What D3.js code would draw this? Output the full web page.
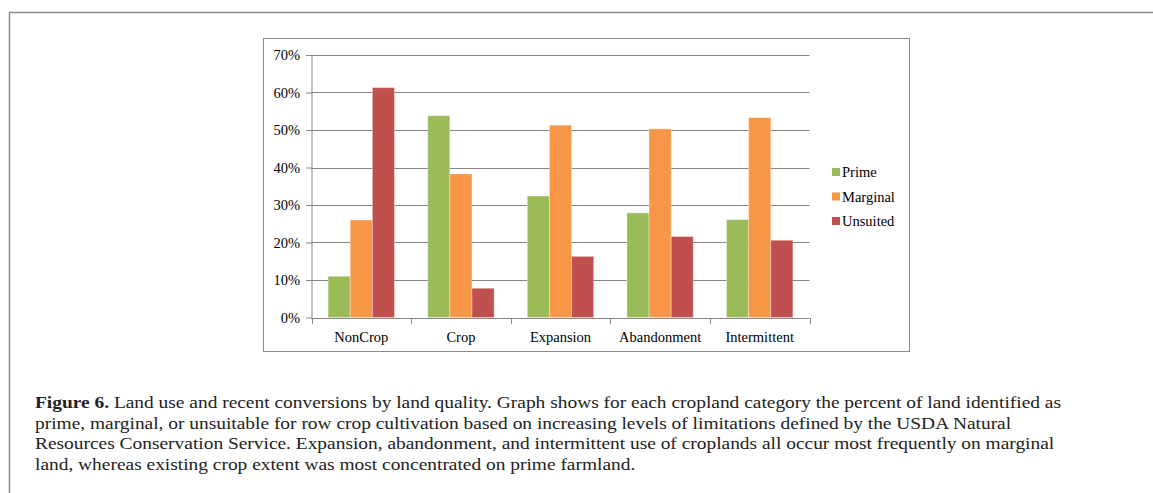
<!DOCTYPE html>
<html>
<head>
<meta charset="utf-8">
<script src="https://cdn.jsdelivr.net/npm/d3@7"></script>
<style>
  body { margin: 0; background: #fff; }
  svg { display: block; }
</style>
</head>
<body>
<svg id="fig" width="1153" height="493"></svg>
<script>
// data
var categories = ["NonCrop", "Crop", "Expansion", "Abandonment", "Intermittent"];
var seriesNames = ["Prime", "Marginal", "Unsuited"];
var prime    = [0.110, 0.538, 0.324, 0.279, 0.261];
var marginal = [0.260, 0.383, 0.513, 0.503, 0.533];
var unsuited = [0.613, 0.078, 0.163, 0.216, 0.206];
var yTicks = [0, 0.1, 0.2, 0.3, 0.4, 0.5, 0.6, 0.7];
var colors = ["#9bbb59", "#f79646", "#c0504d"];
var captionBold = "Figure 6.";
var captionLines = [
  " Land use and recent conversions by land quality. Graph shows for each cropland category the percent of land identified as",
  "prime, marginal, or unsuitable for row crop cultivation based on increasing levels of limitations defined by the USDA Natural",
  "Resources Conservation Service. Expansion, abandonment, and intermittent use of croplands all occur most frequently on marginal",
  "land, whereas existing crop extent was most concentrated on prime farmland."
];

var allSeries = [prime, marginal, unsuited];
var serif = "'Liberation Serif', 'Times New Roman', serif";

var svg = d3.select("#fig");

// outer frame (top + left only, runs off the bottom/right)
svg.append("path")
  .attr("d", "M9.5,493 V12.5 H1153")
  .attr("fill", "none")
  .attr("stroke", "#8c8c8c")
  .attr("stroke-width", 1.5);

// chart box
svg.append("rect")
  .attr("x", 263.5).attr("y", 38.5)
  .attr("width", 646).attr("height", 313)
  .attr("fill", "#fff")
  .attr("stroke", "#8c8c8c")
  .attr("stroke-width", 1);

var plotL = 311.5, plotR = 809.5, plotT = 55, plotB = 317.5;

var x = d3.scaleBand().domain(categories).range([plotL, plotR]).paddingInner(0).paddingOuter(0);
var xs = d3.scaleBand().domain(seriesNames).range([0, x.bandwidth()]).paddingOuter(0.75).paddingInner(0);
var y = d3.scaleLinear().domain([0, 0.7]).range([plotB, plotT]);

// gridlines
svg.append("g").selectAll("line")
  .data(yTicks.slice(1))
  .enter().append("line")
  .attr("x1", plotL).attr("x2", plotR)
  .attr("y1", d => Math.round(y(d)) + 0.5)
  .attr("y2", d => Math.round(y(d)) + 0.5)
  .attr("stroke", "#868686")
  .attr("stroke-width", 1);

// bars
var groups = svg.append("g").selectAll("g")
  .data(categories)
  .enter().append("g")
  .attr("transform", d => "translate(" + x(d) + ",0)");

groups.selectAll("rect")
  .data((c, i) => seriesNames.map((s, j) => ({ s: s, j: j, v: allSeries[j][i] })))
  .enter().append("rect")
  .attr("x", d => xs(d.s))
  .attr("width", xs.bandwidth())
  .attr("y", d => y(d.v))
  .attr("height", d => y(0) - y(d.v))
  .attr("fill", (d) => colors[d.j])
  .attr("stroke", "#fff")
  .attr("stroke-opacity", 0.35)
  .attr("stroke-width", 1);

// y axis
var yAxis = d3.axisLeft(y)
  .tickValues(yTicks)
  .tickFormat(d3.format(".0%"))
  .tickSize(6)
  .tickPadding(6);

var ya = svg.append("g")
  .attr("transform", "translate(" + (plotL + 0.5) + ",0)")
  .call(yAxis);
ya.select(".domain").attr("stroke", "#868686").attr("d", "M0," + plotT + "V" + plotB);
ya.selectAll(".tick line").attr("stroke", "#868686");
ya.selectAll(".tick text")
  .attr("font-family", serif)
  .attr("font-size", "14.5px")
  .attr("fill", "#000");

// x axis: ticks between categories
var xa = svg.append("g").attr("class", "xaxis");
xa.append("line")
  .attr("x1", plotL).attr("x2", plotR)
  .attr("y1", Math.round(plotB) + 0.5).attr("y2", Math.round(plotB) + 0.5)
  .attr("stroke", "#868686");
var edges = categories.map(c => x(c)).concat([plotR]);
xa.selectAll("line.tk")
  .data(edges)
  .enter().append("line")
  .attr("class", "tk")
  .attr("x1", d => Math.round(d) + 0.5).attr("x2", d => Math.round(d) + 0.5)
  .attr("y1", Math.round(plotB)).attr("y2", Math.round(plotB) + 6)
  .attr("stroke", "#868686");
xa.selectAll("text")
  .data(categories)
  .enter().append("text")
  .attr("x", d => x(d) + x.bandwidth() / 2)
  .attr("y", 341.5)
  .attr("text-anchor", "middle")
  .attr("font-family", serif)
  .attr("font-size", "14.5px")
  .text(d => d);

// legend
var legend = svg.append("g").selectAll("g")
  .data(seriesNames)
  .enter().append("g")
  .attr("transform", (d, i) => "translate(832," + (172 + i * 24.5) + ")");
legend.append("rect")
  .attr("x", 0).attr("y", -4).attr("width", 8).attr("height", 8)
  .attr("fill", (d, i) => colors[i]);
legend.append("text")
  .attr("x", 10).attr("y", 5)
  .attr("font-family", serif)
  .attr("font-size", "14.5px")
  .text(d => d);

// caption (stretched horizontally to match the original typeface's width)
var cap = svg.append("g")
  .attr("font-family", serif)
  .attr("font-size", "17.5px")
  .attr("fill", "#222");
var capLines = [];
captionLines.forEach(function(line, i) {
  var t = cap.append("text")
    .attr("x", 0)
    .attr("y", 408 + i * 20.6);
  if (i === 0) {
    t.append("tspan").attr("font-weight", "bold").text(captionBold);
  }
  t.append("tspan").text(line);
  capLines.push(t);
});
var w0 = capLines[0].node().getComputedTextLength();
var sx = (1062 - 35) / w0;
cap.attr("transform", "translate(35,0) scale(" + sx + ",1)");
</script>
</body>
</html>
